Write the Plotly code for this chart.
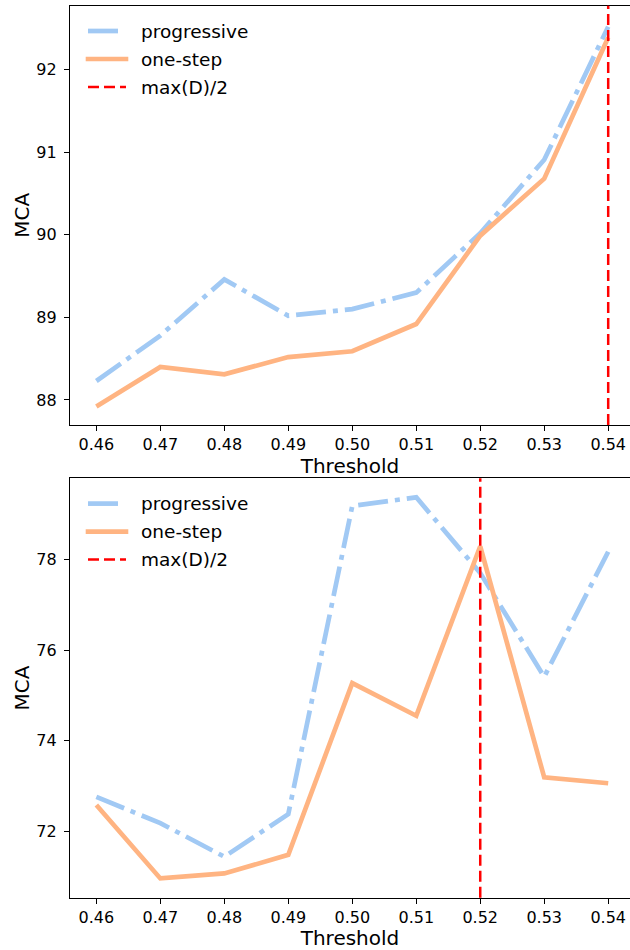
import plotly.graph_objects as go

# ---- data ----
thresholds = [0.46, 0.47, 0.48, 0.49, 0.50, 0.51, 0.52, 0.53, 0.54]
tick_labels = ["0.46", "0.47", "0.48", "0.49", "0.50", "0.51", "0.52", "0.53", "0.54"]

top_progressive = [88.23, 88.78, 89.46, 89.02, 89.10, 89.30, 90.02, 90.91, 92.52]
top_onestep = [87.92, 88.40, 88.31, 88.52, 88.59, 88.92, 89.99, 90.68, 92.39]
top_vline = 0.54

bot_progressive = [72.76, 72.18, 71.44, 72.38, 79.18, 79.37, 77.70, 75.41, 78.17]
bot_onestep = [72.58, 70.96, 71.07, 71.48, 75.27, 74.55, 78.29, 73.19, 73.06]
bot_vline = 0.52

series_names = ["progressive", "one-step", "max(D)/2"]

# ---- style ----
BLUE = "#a1c9f4"
ORANGE = "#ffb482"
RED = "#ff0000"
FONT = "DejaVu Sans"
W, H = 630, 950
ML = 70
LW = 4.7
DASHDOT = "30px,7px,5px,7px"
RDASH = "11px,5px"

def py(px):
    return 1 - px / H

def pxx(px):
    return (px - ML) / (W - ML)

fig = go.Figure()

panels = [
    ("x", "y", top_progressive, top_onestep, top_vline),
    ("x2", "y2", bot_progressive, bot_onestep, bot_vline),
]
for xa, ya, prog, one, vl in panels:
    fig.add_trace(go.Scatter(x=thresholds, y=prog, mode="lines", name=series_names[0],
                             line=dict(color=BLUE, width=LW, dash=DASHDOT),
                             xaxis=xa, yaxis=ya, showlegend=False))
    fig.add_trace(go.Scatter(x=thresholds, y=one, mode="lines", name=series_names[1],
                             line=dict(color=ORANGE, width=LW),
                             xaxis=xa, yaxis=ya, showlegend=False))
    fig.add_shape(type="line", xref=xa, yref=ya + " domain", x0=vl, x1=vl, y0=0, y1=1,
                  line=dict(color=RED, width=2.5, dash=RDASH))

axis_common = dict(showline=True, linecolor="black", linewidth=1.3, ticks="outside",
                   ticklen=5, tickwidth=1.3, tickcolor="black", showgrid=False,
                   zeroline=False, tickfont=dict(family=FONT, size=16, color="black"),
                   automargin=False)

xr = [0.455882, 0.543407]
xtitle = dict(text="Threshold", font=dict(size=20, family=FONT), standoff=4)
ytitle = dict(text="MCA", font=dict(size=20, family=FONT), standoff=1)
fig.update_layout(
    width=W, height=H,
    margin=dict(l=ML, r=0, t=0, b=0),
    paper_bgcolor="white", plot_bgcolor="white",
    font=dict(family=FONT, color="black"),
    xaxis=dict(domain=[0, 1], range=xr, anchor="y", mirror=True,
               tickvals=thresholds, ticktext=tick_labels, ticklabelstandoff=0,
               title=xtitle, **axis_common),
    yaxis=dict(domain=[py(425), py(5.7)], range=[87.697, 92.775], anchor="x",
               tickvals=[88, 89, 90, 91, 92], ticklabelstandoff=4,
               title=ytitle, **axis_common),
    xaxis2=dict(domain=[0, 1], range=xr, anchor="y2", mirror=True,
                tickvals=thresholds, ticktext=tick_labels, ticklabelstandoff=0,
                title=xtitle, **axis_common),
    yaxis2=dict(domain=[py(897.7), py(478.3)], range=[70.535, 79.79], anchor="x2",
                tickvals=[72, 74, 76, 78], ticklabelstandoff=4,
                title=ytitle, **axis_common),
)

# ---- manual legends (matplotlib-like placement) ----
legend_styles = [
    dict(color=BLUE, width=LW, dash=DASHDOT),
    dict(color=ORANGE, width=LW),
    dict(color=RED, width=2.5, dash=RDASH),
]
legend_x = [(88, 118), (85.7, 128.3), (88, 126)]
for top in (5.7, 478.3):
    for i, name in enumerate(series_names):
        yy = top + 25.3 + i * 28
        x0, x1 = legend_x[i]
        fig.add_shape(type="line", xref="paper", yref="paper",
                      x0=pxx(x0), x1=pxx(x1), y0=py(yy), y1=py(yy),
                      line=legend_styles[i])
        fig.add_annotation(text=name, xref="paper", yref="paper", x=pxx(139), y=py(yy),
                           xanchor="left", yanchor="middle", showarrow=False,
                           font=dict(family=FONT, size=18.5, color="black"))

fig.write_html("out.html", config={"displayModeBar": False},
               post_script="document.body.style.margin='0';document.body.style.padding='0';")
